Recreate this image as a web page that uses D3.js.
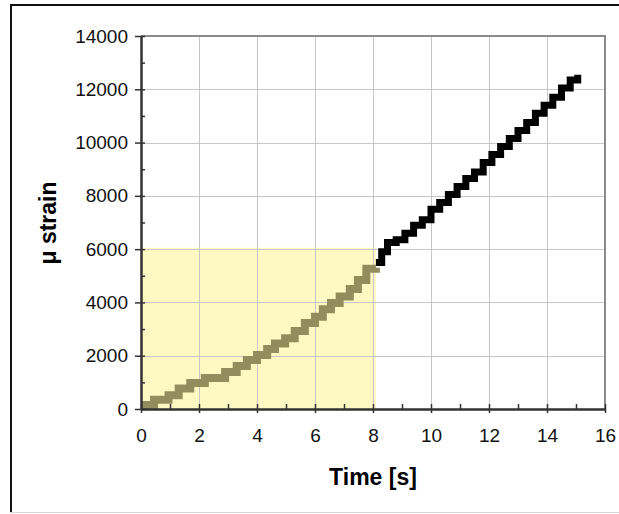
<!DOCTYPE html>
<html>
<head>
<meta charset="utf-8">
<script src="https://cdn.jsdelivr.net/npm/d3@7"></script>
<style>
  html, body { margin: 0; padding: 0; background: #fff; }
  svg { display: block; }
  text { font-family: "Liberation Sans", Arial, sans-serif; }
</style>
</head>
<body>
<svg id="chart" width="619" height="514"></svg>
<script>
// ---- data ----
const xTicks = [0, 2, 4, 6, 8, 10, 12, 14, 16];
const yTicks = [0, 2000, 4000, 6000, 8000, 10000, 12000, 14000];
const xMinorTicks = [1, 3, 5, 7, 9, 11, 13, 15];
const yMinorTicks = [1000, 3000, 5000, 7000, 9000, 11000, 13000];

// shaded region (time range, strain range)
const shadeTime = [0, 8.1];
const shadeStrain = [0, 6050];

// first phase (olive), stair-step readings
const phase1Time   = [0, 0.45, 0.95, 1.3, 1.7, 2.2, 2.9, 3.3, 3.65, 4.0, 4.35, 4.62, 4.97, 5.3, 5.65, 6.0, 6.27, 6.55, 6.85, 7.2, 7.48, 7.77, 8.1];
const phase1Strain = [150, 350, 520, 770, 975, 1160, 1390, 1610, 1840, 2030, 2250, 2460, 2660, 2930, 3230, 3460, 3740, 3980, 4220, 4500, 4840, 5260, 5300];

// second phase (black), stair-step readings
const phase2Time   = [8.1, 8.3, 8.5, 8.8, 9.1, 9.4, 9.7, 10.0, 10.3, 10.6, 10.9, 11.2, 11.5, 11.8, 12.1, 12.4, 12.7, 13.0, 13.3, 13.6, 13.9, 14.2, 14.5, 14.8, 15.06];
const phase2Strain = [5500, 5900, 6250, 6350, 6600, 6900, 7100, 7500, 7750, 8050, 8350, 8650, 8900, 9250, 9550, 9850, 10150, 10450, 10750, 11100, 11400, 11700, 12050, 12350, 12550];

// ---- layout ----
const svg = d3.select("#chart");
const mLeft = 141, mRight = 605, mTop = 36, mBottom = 409;

const x = d3.scaleLinear().domain([0, 16]).range([mLeft, mRight]);
const y = d3.scaleLinear().domain([0, 14000]).range([mBottom, mTop]);

// outer frame
svg.append("line").attr("x1", 11).attr("x2", 11).attr("y1", 4).attr("y2", 513)
  .attr("stroke", "#111").attr("stroke-width", 2);
svg.append("line").attr("x1", 10).attr("x2", 619).attr("y1", 5).attr("y2", 5)
  .attr("stroke", "#111").attr("stroke-width", 2);
svg.append("line").attr("x1", 10).attr("x2", 619).attr("y1", 512.5).attr("y2", 512.5)
  .attr("stroke", "#d8d8d8").attr("stroke-width", 1);

// shaded region
svg.append("rect")
  .attr("x", x(shadeTime[0]))
  .attr("y", y(shadeStrain[1]))
  .attr("width", x(shadeTime[1]) - x(shadeTime[0]))
  .attr("height", y(shadeStrain[0]) - y(shadeStrain[1]))
  .attr("fill", "#fef9c3");

// gridlines
const grid = svg.append("g").attr("stroke", "#c6c6c6").attr("stroke-width", 1);
xTicks.filter(d => d > 0 && d < 16).forEach(d => {
  grid.append("line").attr("x1", Math.round(x(d)) + 0.5).attr("x2", Math.round(x(d)) + 0.5)
    .attr("y1", mTop).attr("y2", mBottom);
});
yTicks.filter(d => d > 0 && d < 14000).forEach(d => {
  grid.append("line").attr("x1", mLeft).attr("x2", mRight)
    .attr("y1", Math.round(y(d)) + 0.5).attr("y2", Math.round(y(d)) + 0.5);
});

// plot border top & right
svg.append("path")
  .attr("d", `M${mLeft},${mTop}H${mRight}V${mBottom}`)
  .attr("fill", "none").attr("stroke", "#8a8a8a").attr("stroke-width", 2);

// data lines
const line = d3.line().x(d => x(d[0])).y(d => y(d[1])).curve(d3.curveStepAfter);
const p1 = phase1Time.map((t, i) => [t, phase1Strain[i]]);
const p2 = phase2Time.map((t, i) => [t, phase2Strain[i]]);

svg.append("path").datum(p1).attr("d", line)
  .attr("fill", "none").attr("stroke", "#928d5d").attr("stroke-width", 8)
  .attr("stroke-linejoin", "miter");
svg.append("path").datum(p2).attr("d", line)
  .attr("fill", "none").attr("stroke", "#000").attr("stroke-width", 7)
  .attr("stroke-linejoin", "miter");

// axes
const fmt = d3.format("d");
const yAxis = svg.append("g").attr("transform", `translate(${mLeft},0)`)
  .call(d3.axisLeft(y).tickValues(yTicks).tickFormat(fmt).tickSize(6).tickPadding(7).tickSizeOuter(0));
const yAxisIn = svg.append("g").attr("transform", `translate(${mLeft},0)`)
  .call(d3.axisLeft(y).tickValues(yTicks.concat(yMinorTicks)).tickSize(-4).tickFormat("").tickSizeOuter(0));

const xAxis = svg.append("g").attr("transform", `translate(0,${mBottom})`)
  .call(d3.axisBottom(x).tickValues(xTicks).tickFormat(fmt).tickSize(4).tickPadding(16).tickSizeOuter(0));
const xAxisIn = svg.append("g").attr("transform", `translate(0,${mBottom})`)
  .call(d3.axisBottom(x).tickValues(xTicks.concat(xMinorTicks)).tickSize(-5).tickFormat("").tickSizeOuter(0));

[yAxis, yAxisIn, xAxis, xAxisIn].forEach(g => {
  g.select(".domain").attr("stroke", "#333").attr("stroke-width", 2);
  g.selectAll(".tick line").attr("stroke", "#333").attr("stroke-width", 1.5);
  g.selectAll(".tick text").attr("fill", "#111")
    .style("font-family", "'Liberation Sans', Arial, sans-serif").style("font-size", "19px");
});

// axis titles
svg.append("text")
  .attr("x", 373).attr("y", 485)
  .attr("text-anchor", "middle")
  .style("font-size", "23px").style("font-weight", "bold")
  .attr("fill", "#000")
  .text("Time [s]");

svg.append("text")
  .attr("transform", "translate(56,223) rotate(-90)")
  .attr("text-anchor", "middle")
  .style("font-size", "23px").style("font-weight", "bold")
  .attr("fill", "#000")
  .text("μ strain");
</script>
</body>
</html>
